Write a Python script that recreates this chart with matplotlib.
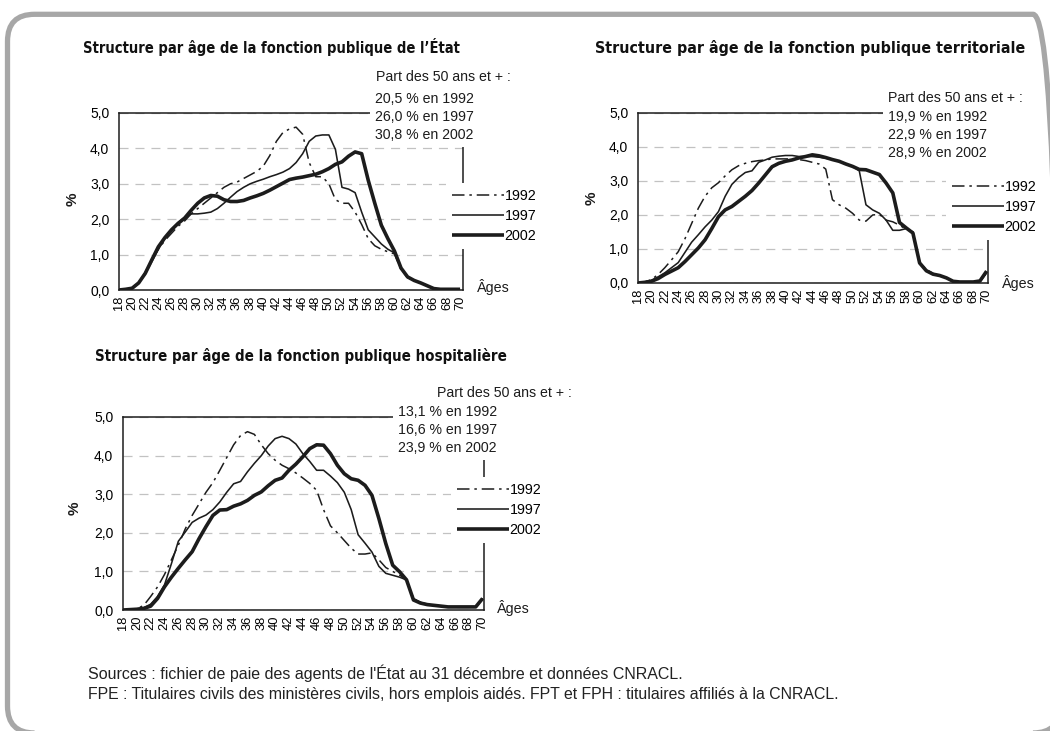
import matplotlib
matplotlib.use("Agg")
import matplotlib.pyplot as plt
from matplotlib.patches import FancyBboxPatch, Rectangle
from matplotlib.transforms import IdentityTransform
from matplotlib import font_manager as fm

W, H, DPI = 1050, 731, 100

# ---------------- data ----------------
ages = list(range(18, 71))
tick_ages = list(range(18, 71, 2))
ytick_vals = [0, 1, 2, 3, 4, 5]
ytick_labels = ["0,0", "1,0", "2,0", "3,0", "4,0", "5,0"]
years = ["1992", "1997", "2002"]

titles = [
    "Structure par âge de la fonction publique de l’État",
    "Structure par âge de la fonction publique territoriale",
    "Structure par âge de la fonction publique hospitalière",
]
share_header = "Part des 50 ans et + :"
etat_share = ["20,5 % en 1992", "26,0 % en 1997", "30,8 % en 2002"]
terr_share = ["19,9 % en 1992", "22,9 % en 1997", "28,9 % en 2002"]
hosp_share = ["13,1 % en 1992", "16,6 % en 1997", "23,9 % en 2002"]

etat_1992 = [0.0, 0.02, 0.05, 0.2, 0.5, 0.85, 1.15, 1.4, 1.6, 1.8, 1.95, 2.15, 2.3, 2.45,
             2.6, 2.75, 2.9, 3.0, 3.05, 3.15, 3.25, 3.35, 3.5, 3.8, 4.2, 4.45, 4.55, 4.6,
             4.4, 3.6, 3.2, 3.2, 3.0, 2.55, 2.45, 2.45, 2.2, 1.85, 1.45, 1.25, 1.15, 1.08,
             1.02, 0.58, 0.35, 0.27, 0.2, 0.12, 0.04, 0.02, 0.02, 0.02, 0.02]
etat_1997 = [0.0, 0.02, 0.06, 0.2, 0.45, 0.8, 1.15, 1.45, 1.7, 1.9, 2.05, 2.15, 2.15, 2.17,
             2.2, 2.3, 2.45, 2.62, 2.78, 2.9, 3.0, 3.07, 3.13, 3.2, 3.26, 3.33, 3.43, 3.6,
             3.85, 4.2, 4.35, 4.38, 4.38, 3.97, 2.9, 2.85, 2.75, 2.2, 1.7, 1.5, 1.3, 1.15,
             1.05, 0.6, 0.36, 0.27, 0.2, 0.12, 0.04, 0.02, 0.02, 0.02, 0.02]
etat_2002 = [0.0, 0.02, 0.05, 0.2, 0.47, 0.85, 1.22, 1.48, 1.7, 1.88, 2.03, 2.25, 2.45, 2.6,
             2.67, 2.65, 2.55, 2.5, 2.5, 2.53, 2.6, 2.66, 2.73, 2.82, 2.92, 3.02, 3.12, 3.16,
             3.19, 3.23, 3.27, 3.34, 3.43, 3.55, 3.62, 3.78, 3.9, 3.85, 3.1, 2.45, 1.83, 1.45,
             1.1, 0.62, 0.37, 0.27, 0.2, 0.12, 0.04, 0.02, 0.02, 0.02, 0.02]

terr_1992 = [0.0, 0.03, 0.1, 0.25, 0.45, 0.68, 0.92, 1.3, 1.75, 2.2, 2.55, 2.8, 2.95, 3.15,
             3.33, 3.45, 3.52, 3.57, 3.6, 3.62, 3.65, 3.65, 3.65, 3.65, 3.63, 3.6, 3.55, 3.5,
             3.35, 2.45, 2.3, 2.2, 2.05, 1.85, 1.82, 2.0, 2.02, 1.85, 1.8, 1.7, 1.58, 1.5,
             0.6, 0.4, 0.28, 0.22, 0.15, 0.06, 0.03, 0.03, 0.03, 0.05, 0.3]
terr_1997 = [0.0, 0.03, 0.08, 0.18, 0.3, 0.45, 0.6, 0.9, 1.2, 1.42, 1.65, 1.85, 2.1, 2.55,
             2.9, 3.1, 3.25, 3.3, 3.55, 3.62, 3.7, 3.73, 3.75, 3.75, 3.72, 3.72, 3.72, 3.7,
             3.67, 3.63, 3.57, 3.5, 3.43, 3.3, 2.3, 2.15, 2.05, 1.85, 1.55, 1.55, 1.6, 1.5,
             0.6, 0.38, 0.27, 0.22, 0.15, 0.05, 0.03, 0.03, 0.03, 0.05, 0.3]
terr_2002 = [0.0, 0.02, 0.05, 0.13, 0.25, 0.35, 0.45, 0.63, 0.83, 1.03, 1.27, 1.6, 1.95, 2.15,
             2.25, 2.4, 2.55, 2.72, 2.94, 3.18, 3.42, 3.52, 3.58, 3.62, 3.68, 3.72, 3.77, 3.74,
             3.69, 3.63, 3.58, 3.5, 3.43, 3.34, 3.33, 3.26, 3.19, 2.94, 2.65, 1.78, 1.62, 1.47,
             0.59, 0.36, 0.26, 0.22, 0.15, 0.05, 0.03, 0.03, 0.03, 0.06, 0.35]

hosp_1992 = [0.0, 0.01, 0.03, 0.12, 0.35, 0.6, 0.92, 1.3, 1.68, 2.1, 2.45, 2.75, 3.05, 3.3,
             3.62, 3.95, 4.28, 4.52, 4.62, 4.55, 4.28, 4.05, 3.88, 3.75, 3.66, 3.55, 3.42, 3.28,
             3.1, 2.6, 2.18, 2.0, 1.8, 1.6, 1.45, 1.45, 1.48, 1.3, 1.1, 1.0, 0.9, 0.8,
             0.3, 0.2, 0.15, 0.12, 0.1, 0.08, 0.07, 0.07, 0.07, 0.08, 0.3]
hosp_1997 = [0.0, 0.01, 0.03, 0.06, 0.15, 0.35, 0.65, 1.2, 1.78, 2.02, 2.27, 2.38, 2.46, 2.6,
             2.8, 3.05, 3.27, 3.33, 3.58, 3.8, 4.0, 4.25, 4.44, 4.5, 4.44, 4.3, 4.05, 3.85,
             3.62, 3.62, 3.47, 3.3, 3.05, 2.6, 1.95, 1.73, 1.5, 1.13, 0.95, 0.9, 0.85, 0.78,
             0.28, 0.2, 0.15, 0.12, 0.1, 0.08, 0.08, 0.08, 0.08, 0.08, 0.3]
hosp_2002 = [0.0, 0.01, 0.02, 0.04, 0.1, 0.3, 0.6, 0.85, 1.08, 1.3, 1.51, 1.85, 2.16, 2.45,
             2.59, 2.6, 2.69, 2.75, 2.84, 2.97, 3.06, 3.22, 3.36, 3.42, 3.62, 3.78, 3.97, 4.18,
             4.28, 4.27, 4.05, 3.75, 3.53, 3.4, 3.36, 3.23, 2.97, 2.37, 1.72, 1.16, 0.99, 0.78,
             0.26, 0.18, 0.14, 0.12, 0.1, 0.08, 0.08, 0.08, 0.08, 0.08, 0.3]

footer = [
    "Sources : fichier de paie des agents de l'État au 31 décembre et données CNRACL.",
    "FPE : Titulaires civils des ministères civils, hors emplois aidés. FPT et FPH : titulaires affiliés à la CNRACL.",
]

# ---------------- style ----------------
BODY = "Liberation Sans"
plt.rcParams["font.family"] = [BODY, "DejaVu Sans"]
plt.rcParams["lines.scale_dashes"] = False

INK = "#1c1c1c"
styles = [
    dict(color=INK, lw=1.1, linestyle=(0, (9, 3.5, 1.8, 3.5))),
    dict(color=INK, lw=1.15, linestyle="-"),
    dict(color=INK, lw=2.6, linestyle="-"),
]

fig = plt.figure(figsize=(W / DPI, H / DPI), dpi=DPI)
fig.patch.set_facecolor("white")

def fx(px):
    return px / W

def fy(py):
    return 1 - py / H

# rounded frame
frame = FancyBboxPatch((7.5, H - 733), 1060 - 7.5, 733 - 14.3,
                       boxstyle="round,pad=0,rounding_size=27",
                       transform=IdentityTransform(), facecolor="none",
                       edgecolor="#a7a7a7", linewidth=3.8)
fig.add_artist(frame)

texts_to_fit = []

def panel(box, xmax, series, title, title_xy, title_w, header_xy, share, share_xy,
          legend_xy, ages_xy, pct_xy, mask=None):
    l, t, r, b = box
    ax = fig.add_axes([fx(l), fy(b), fx(r - l), (b - t) / H])
    ax.set_xlim(18, xmax)
    ax.set_ylim(0, 5)
    for vals, st, yr in zip(series, styles, years):
        ax.plot(ages, vals, label=yr, solid_capstyle="butt", **st)
    ax.set_xticks(tick_ages)
    ax.set_xticklabels([str(a) for a in tick_ages], rotation=90, fontsize=9.3)
    ax.set_yticks(ytick_vals)
    ax.set_yticklabels(ytick_labels, fontsize=10)
    ax.tick_params(axis="y", length=0, pad=7)
    ax.tick_params(axis="x", length=0, pad=4)
    for s in ax.spines.values():
        s.set_color(INK)
        s.set_linewidth(1.1)
    ax.set_axisbelow(True)
    ax.yaxis.grid(True, color="#c2c2c2", linewidth=0.9, linestyle=(0, (6.5, 5)))
    ax.xaxis.grid(False)
    fs = 10.3
    leg = ax.legend(loc="center left", bbox_to_anchor=(fx(legend_xy[0]), fy(legend_xy[1])),
                    bbox_transform=fig.transFigure, frameon=True, fancybox=False,
                    facecolor="white", edgecolor="none", framealpha=1, fontsize=fs,
                    handlelength=3.65, handletextpad=0.05, borderpad=0.4,
                    labelspacing=0.45, borderaxespad=0)
    leg.set_zorder(6)
    tt = fig.text(fx(title_xy[0]), fy(title_xy[1]), title, fontsize=11, fontweight="bold",
                  family="DejaVu Sans", fontstretch="condensed",
                  ha="left", va="center", color="#111111")
    texts_to_fit.append((tt, title_w))
    fig.text(fx(header_xy[0]), fy(header_xy[1]), share_header, fontsize=10.2, ha="left",
             va="center", color=INK, zorder=5)
    for i, s in enumerate(share):
        fig.text(fx(share_xy[0]), fy(share_xy[1] + 18 * i), s, fontsize=10.2, ha="left",
                 va="center", color=INK, zorder=5,
                 bbox=dict(facecolor="white", edgecolor="none", pad=3.5))
    if mask is not None:
        mx0, my0, mx1, my1 = mask
        fig.add_artist(Rectangle((mx0, H - my1), mx1 - mx0, my1 - my0,
                                 transform=IdentityTransform(), facecolor="white",
                                 edgecolor="none", zorder=4))
    fig.text(fx(ages_xy[0]), fy(ages_xy[1]), "Âges", fontsize=10.3, ha="left", va="center",
             color=INK)
    fig.text(fx(pct_xy[0]), fy(pct_xy[1]), "%", fontsize=11, fontweight="bold", rotation=90,
             ha="center", va="center", color=INK)
    return ax

panel((119, 113, 463, 290), 70.45, [etat_1992, etat_1997, etat_2002], titles[0],
      (83, 47), 374, (376, 77), etat_share, (375, 99), (446, 216), (477, 287), (73, 199))
panel((638, 113, 988, 283), 70.2, [terr_1992, terr_1997, terr_2002], titles[1],
      (595, 48), 428, (888, 98), terr_share, (888, 117), (946, 207), (1002, 283), (592, 198),
      mask=(978, 150, 996, 180))
panel((123, 417, 484, 610), 70.2, [hosp_1992, hosp_1997, hosp_2002], titles[2],
      (95, 356), 410, (437, 393), hosp_share, (398, 412), (451, 510), (497, 608), (75, 508))

for i, line in enumerate(footer):
    ft = fig.text(fx(88), fy(673 + 22 * i), line, fontsize=10.5,
                  family="Liberation Sans", fontstretch="condensed",
                  ha="left", va="center", color="#222222")
    texts_to_fit.append((ft, 757 if i == 1 else 600))

renderer = fig.canvas.get_renderer()
for t, target in texts_to_fit:
    w = t.get_window_extent(renderer).width
    t.set_fontsize(t.get_fontsize() * target / w)

fig.savefig("out.png", dpi=DPI, facecolor="white")
